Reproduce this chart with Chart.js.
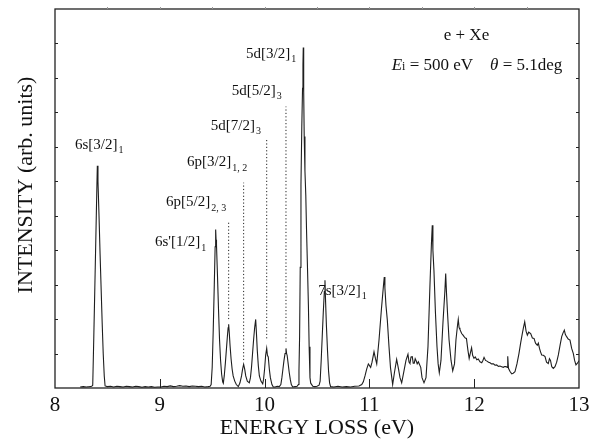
<!DOCTYPE html>
<html>
<head>
<meta charset="utf-8">
<script src="https://cdn.jsdelivr.net/npm/chart.js@4.4.1/dist/chart.umd.min.js"></script>
<style>
  body { margin: 0; background: #fff; }
  canvas { display: block; }
</style>
</head>
<body>
<canvas id="chart" width="596" height="441"></canvas>
<script>
// spectrum: energy loss (eV) and intensity (arb. units)
const energy = [
  8.24, 8.27, 8.30, 8.33, 8.35, 8.36, 8.37, 8.38, 8.39, 8.40, 8.404, 8.41, 8.42, 8.43, 8.44, 8.45, 8.46, 8.47, 8.478,
  8.50, 8.53, 8.56, 8.59, 8.62, 8.65, 8.68, 8.71, 8.74, 8.77, 8.80, 8.83, 8.86, 8.89, 8.92, 8.95, 8.98,
  9.01, 9.04, 9.07, 9.10, 9.13, 9.16, 9.19, 9.22, 9.25, 9.28, 9.31, 9.34, 9.37, 9.40, 9.43, 9.46, 9.48,
  9.49, 9.50, 9.51, 9.52, 9.528, 9.533, 9.537, 9.541, 9.55, 9.56, 9.57, 9.58, 9.59, 9.60, 9.606,
  9.615, 9.625, 9.635, 9.645, 9.652, 9.657, 9.663, 9.67, 9.68, 9.69, 9.70, 9.715, 9.73, 9.749,
  9.765, 9.78, 9.79, 9.80, 9.81, 9.82, 9.835, 9.854,
  9.865, 9.875, 9.885, 9.895, 9.905, 9.915, 9.922, 9.93, 9.94, 9.95, 9.965, 9.982,
  9.99, 10.00, 10.01, 10.02, 10.027, 10.035, 10.045, 10.055, 10.07, 10.083,
  10.10, 10.12, 10.14, 10.155, 10.165, 10.175, 10.185, 10.195, 10.204, 10.21, 10.215, 10.225, 10.235, 10.245, 10.255, 10.268,
  10.29, 10.31, 10.322, 10.328, 10.334, 10.34, 10.347, 10.355, 10.362, 10.366, 10.369, 10.373, 10.378, 10.385, 10.393,
  10.40, 10.41, 10.418, 10.425, 10.433, 10.44, 10.46, 10.48, 10.50, 10.52,
  10.53, 10.54, 10.55, 10.56, 10.57, 10.576, 10.582, 10.59, 10.60, 10.61, 10.62, 10.63,
  10.66, 10.70, 10.74, 10.78, 10.82, 10.86, 10.90, 10.927, 10.942, 10.958, 10.974, 10.99,
  11.012, 11.025, 11.044, 11.058, 11.07, 11.092, 11.115, 11.135, 11.142, 11.148, 11.158, 11.171, 11.187, 11.201,
  11.222, 11.239, 11.26, 11.278, 11.292, 11.308, 11.33, 11.349, 11.368, 11.378, 11.387, 11.397, 11.409, 11.418,
  11.428, 11.437, 11.445, 11.456, 11.467, 11.49, 11.502, 11.521, 11.54, 11.559, 11.578, 11.592, 11.60, 11.606,
  11.616, 11.63, 11.645, 11.656, 11.667, 11.683, 11.702, 11.72, 11.728, 11.735, 11.745, 11.76, 11.779, 11.795,
  11.812, 11.826, 11.84, 11.848, 11.856, 11.864, 11.88, 11.89, 11.902, 11.915, 11.926, 11.94, 11.952, 11.962,
  11.975, 11.985, 11.998, 12.01, 12.025, 12.039, 12.055, 12.072, 12.083, 12.094, 12.108, 12.122, 12.137, 12.151,
  12.165, 12.184, 12.198, 12.215, 12.23, 12.246, 12.262, 12.278, 12.29, 12.303, 12.315, 12.32, 12.327, 12.342,
  12.358, 12.372, 12.389, 12.408, 12.427, 12.443, 12.459, 12.47, 12.482, 12.495, 12.507, 12.52, 12.539, 12.555,
  12.571, 12.585, 12.602, 12.612, 12.623, 12.633, 12.644, 12.66, 12.676, 12.69, 12.707, 12.718, 12.728, 12.74,
  12.755, 12.771, 12.787, 12.803, 12.82, 12.835, 12.848, 12.86, 12.87, 12.882, 12.897, 12.914, 12.93, 12.946,
  12.958, 12.971, 12.985, 13.0
];
const intensity = [
  0.03, 0.04, 0.03, 0.04, 0.05, 0.08, 1.45, 2.9, 4.4, 5.9, 6.45, 6.0, 5.0, 3.9, 2.9, 1.9, 1.0, 0.35, 0.06,
  0.04, 0.05, 0.03, 0.05, 0.04, 0.03, 0.05, 0.04, 0.03, 0.05, 0.04, 0.02, 0.04, 0.03, 0.04, 0.02, 0.03,
  0.03, 0.05, 0.04, 0.06, 0.04, 0.05, 0.07, 0.05, 0.06, 0.04, 0.06, 0.05, 0.04, 0.05, 0.03, 0.04, 0.05,
  0.1, 0.6, 1.7, 3.0, 4.1, 4.6, 4.3, 4.15, 3.3, 2.3, 1.4, 0.8, 0.4, 0.18, 0.14,
  0.35, 0.7, 1.1, 1.5, 1.75, 1.85, 1.6, 1.25, 0.85, 0.55, 0.35, 0.2, 0.1, 0.04,
  0.15, 0.35, 0.55, 0.69, 0.55, 0.35, 0.2, 0.15,
  0.3, 0.6, 1.0, 1.4, 1.75, 1.99, 1.6, 1.1, 0.65, 0.35, 0.2, 0.12,
  0.25, 0.55, 0.95, 1.15, 0.95, 0.9, 0.55, 0.3, 0.1, 0.03,
  0.03, 0.05, 0.04, 0.1, 0.3, 0.55, 0.8, 1.0, 1.15, 1.0, 0.95, 0.7, 0.45, 0.25, 0.1, 0.03,
  0.04, 0.05, 0.1, 0.5, 1.5, 3.5, 5.9, 7.6, 8.7, 9.4, 9.88, 8.6, 7.3, 6.3, 5.6,
  4.6, 3.4, 2.4, 1.2, 0.3, 0.14, 0.05, 0.04, 0.05, 0.08,
  0.2, 0.8, 1.5, 2.2, 2.8, 3.13, 2.5, 1.8, 1.1, 0.5, 0.15, 0.04,
  0.03, 0.05, 0.03, 0.04, 0.03, 0.05, 0.06, 0.1, 0.18, 0.35, 0.55, 0.7,
  0.6, 0.75, 1.05, 0.85, 0.7, 1.4, 2.3, 3.0, 3.22, 2.9, 2.4, 1.97, 1.2, 0.6,
  0.1, 0.45, 0.83, 0.55, 0.3, 0.15, 0.5, 0.8, 0.98, 0.75, 0.71, 0.9, 0.91, 0.72,
  0.72, 0.85, 0.8, 0.7, 0.76, 0.6, 0.3, 0.15, 0.3, 1.2, 3.0, 4.2, 4.72, 4.0,
  3.4, 2.2, 1.2, 0.7, 0.44, 0.8, 1.9, 2.8, 3.32, 2.8, 2.2, 1.4, 0.8, 0.5,
  0.7, 1.4, 1.8, 1.99, 1.75, 1.7, 1.58, 1.55, 1.5, 1.45, 1.44, 1.1, 0.86, 1.0,
  1.17, 0.95, 0.86, 0.9, 0.82, 0.84, 0.76, 0.73, 0.8, 0.89, 0.8, 0.78, 0.75, 0.73,
  0.7, 0.7, 0.66, 0.67, 0.63, 0.64, 0.62, 0.6, 0.62, 0.62, 0.6, 0.92, 0.57, 0.48,
  0.41, 0.43, 0.47, 0.7, 1.0, 1.3, 1.58, 1.75, 1.92, 1.65, 1.53, 1.62, 1.58, 1.45,
  1.44, 1.3, 1.24, 1.3, 1.15, 1.05, 0.96, 0.95, 0.91, 0.75, 0.71, 0.85, 0.8, 0.62,
  0.57, 0.62, 0.75, 0.96, 1.25, 1.49, 1.6, 1.68, 1.55, 1.49, 1.42, 1.39, 1.15, 1.0,
  0.8, 0.67, 0.72, 0.79
];

// dotted markers for the unresolved levels
const markerEnergy = [9.657, 9.80, 10.02, 10.204];
const markerTop = [4.82, 5.96, 7.2, 8.17];
const markerBottom = [2.0, 0.81, 1.44, 1.34];

const xTicks = [8, 9, 10, 11, 12, 13];

// level labels: name, subscript, anchor (eV, intensity)
const levelNames = ['6s[3/2]', '6p[5/2]', "6s'[1/2]", '6p[3/2]', '5d[7/2]', '5d[5/2]', '5d[3/2]', '7s[3/2]'];
const levelSubs = ['1', '2, 3', '1', '1, 2', '3', '3', '1', '1'];
const levelX = [8.191, 9.059, 8.954, 9.26, 9.486, 9.686, 9.823, 10.512];
const levelY = [7.08, 5.41, 4.25, 6.57, 7.63, 8.65, 9.72, 2.84];

const SERIF = '"Liberation Serif", "Times New Roman", serif';

const datasets = [{
  data: energy.map((e, i) => ({ x: e, y: intensity[i] })),
  borderColor: '#1e1e1e',
  borderWidth: 1.1,
  pointRadius: 0,
  tension: 0,
}];
markerEnergy.forEach((e, i) => {
  datasets.push({
    data: [{ x: e, y: markerBottom[i] }, { x: e, y: markerTop[i] }],
    borderColor: '#222',
    borderWidth: 1,
    borderDash: [1.2, 2.2],
    pointRadius: 0,
  });
});

function drawLabel(ctx, main, sub, x, y, size) {
  ctx.font = size + 'px ' + SERIF;
  ctx.fillText(main, x, y + size * 0.32);
  const w = ctx.measureText(main).width;
  ctx.font = Math.round(size * 0.66) + 'px ' + SERIF;
  ctx.fillText(sub, x + w + 1, y + size * 0.62);
}

const framePlugin = {
  id: 'frame',
  afterDatasetsDraw(chart) {
    const { ctx, chartArea: a, scales: { x, y } } = chart;
    ctx.save();
    ctx.strokeStyle = '#222';
    ctx.lineWidth = 1.3;
    ctx.strokeRect(a.left, a.top, a.right - a.left, a.bottom - a.top);
    ctx.lineWidth = 1;
    ctx.beginPath();
    for (let v = 1; v <= 10; v++) {
      const py = Math.round(y.getPixelForValue(v)) + 0.5;
      ctx.moveTo(a.left, py); ctx.lineTo(a.left + 3, py);
      ctx.moveTo(a.right, py); ctx.lineTo(a.right - 3, py);
    }
    for (let v = 9; v <= 12; v++) {
      const px = Math.round(x.getPixelForValue(v)) + 0.5;
      ctx.moveTo(px, a.bottom); ctx.lineTo(px, a.bottom - 9);
    }
    ctx.stroke();
    ctx.strokeStyle = '#999';
    ctx.beginPath();
    for (let v = 8.5; v < 13; v += 0.5) {
      const px = Math.round(x.getPixelForValue(v)) + 0.5;
      ctx.moveTo(px, a.top); ctx.lineTo(px, a.top - 2);
    }
    ctx.stroke();
    ctx.restore();
  },
  afterDraw(chart) {
    const { ctx, chartArea: a, scales: { x, y } } = chart;
    ctx.save();
    ctx.fillStyle = '#111';
    ctx.textBaseline = 'alphabetic';
    ctx.textAlign = 'left';
    levelNames.forEach((n, i) => {
      drawLabel(ctx, n, levelSubs[i], x.getPixelForValue(levelX[i]), y.getPixelForValue(levelY[i]), 15);
    });

    // reaction and conditions
    ctx.textAlign = 'center';
    ctx.font = '17px ' + SERIF;
    ctx.fillText('e + Xe', x.getPixelForValue(11.926), y.getPixelForValue(10.25) + 5.5);
    ctx.textAlign = 'left';
    let px = x.getPixelForValue(11.213);
    const base = y.getPixelForValue(9.38) + 5.5;
    const parts = [
      ['italic 17px ', 'E'], ['12px ', 'i'], ['17px ', ' = 500 eV    '],
      ['italic 17px ', '\u03b8'], ['17px ', ' = 5.1deg'],
    ];
    parts.forEach(([f, t]) => {
      ctx.font = f + SERIF;
      ctx.fillText(t, px, base);
      px += ctx.measureText(t).width;
    });

    // axis titles
    ctx.textAlign = 'center';
    ctx.font = '22px ' + SERIF;
    ctx.fillText('ENERGY LOSS (eV)', (a.left + a.right) / 2, 434);
    ctx.translate(32, 185);
    ctx.rotate(-Math.PI / 2);
    ctx.fillText('INTENSITY (arb. units)', 0, 0);
    ctx.restore();
  }
};

new Chart(document.getElementById('chart'), {
  type: 'line',
  data: { datasets },
  options: {
    responsive: false,
    animation: false,
    layout: { padding: { top: 9, right: 17, left: 0, bottom: 0 } },
    plugins: { legend: { display: false }, tooltip: { enabled: false } },
    scales: {
      x: {
        type: 'linear', min: 8, max: 13,
        afterBuildTicks: (s) => { s.ticks = xTicks.map(v => ({ value: v })); },
        afterFit: (s) => { s.height = 53; },
        grid: { display: false },
        border: { display: false },
        ticks: { color: '#111', padding: -3, maxRotation: 0, font: { family: SERIF, size: 21 } },
      },
      y: {
        min: 0, max: 11,
        afterFit: (s) => { s.width = 55; },
        grid: { display: false },
        border: { display: false },
        ticks: { display: false },
      },
    },
  },
  plugins: [framePlugin],
});
</script>
</body>
</html>
